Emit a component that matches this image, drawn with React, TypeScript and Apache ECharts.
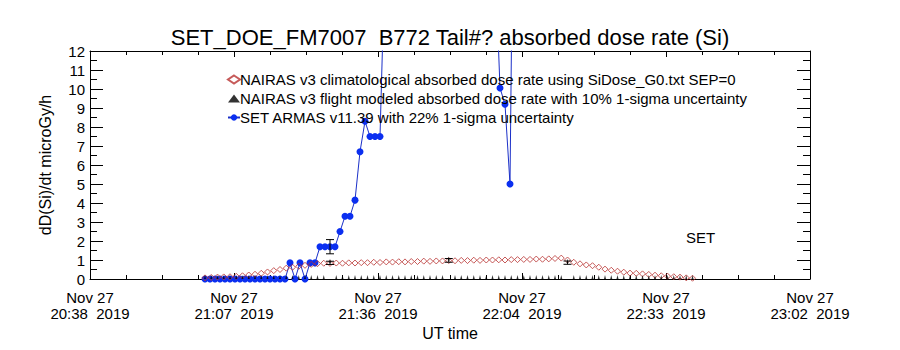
import React, { useEffect, useRef } from 'react';
import * as echarts from 'echarts';

const TITLE = 'SET_DOE_FM7007  B772 Tail#? absorbed dose rate (Si)';
const Y_NAME = 'dD(Si)/dt microGy/h';
const X_NAME = 'UT time';

// x axis: minutes after 20:38 UT, Nov 27 2019
const xTickDates = ['Nov 27', 'Nov 27', 'Nov 27', 'Nov 27', 'Nov 27', 'Nov 27'];
const xTickTimes = ['20:38', '21:07', '21:36', '22:04', '22:33', '23:02'];
const xTickYears = ['2019', '2019', '2019', '2019', '2019', '2019'];
const X_MAX = 144;
const Y_MAX = 12;

const CLIM_NAME = 'NAIRAS v3 climatological absorbed dose rate using SiDose_G0.txt SEP=0';
const FLIGHT_NAME = 'NAIRAS v3 flight modeled absorbed dose rate with 10% 1-sigma uncertainty';
const ARMAS_NAME = 'SET ARMAS v11.39 with 22% 1-sigma uncertainty';

// NAIRAS climatological samples (start minute, step in minutes)
const climStartMin = 23;
const climStepMin = 1.25;
const climVals = [
  0.06, 0.08, 0.1, 0.11, 0.12, 0.14, 0.17, 0.21, 0.25, 0.3,
  0.37, 0.44, 0.5, 0.57, 0.62, 0.67, 0.72, 0.77, 0.81, 0.83,
  0.82, 0.84, 0.83, 0.85, 0.84, 0.86, 0.86, 0.88, 0.87, 0.9,
  0.89, 0.91, 0.9, 0.92, 0.92, 0.94, 0.93, 0.95, 0.95, 0.97,
  0.96, 0.98, 0.97, 0.99, 0.98, 1.0, 1.0, 1.01, 1.0, 1.02,
  1.02, 1.03, 1.03, 1.05, 1.04, 1.06, 1.08, 1.1, 1.0, 0.88,
  0.8, 0.74, 0.7, 0.62, 0.52, 0.46, 0.41, 0.36, 0.31, 0.3,
  0.27, 0.24, 0.2, 0.17, 0.15, 0.12, 0.1, 0.06, 0.04,
];

// NAIRAS flight modeled, on the same sample grid
const flightVals = [
  0, 0, 0, 0, 0, 0, 0, 0, 0, 0,
  0, 0, 0, 0, 0, 0, 0, 0, 0, 0,
  0.85, 0, 0, 0, 0, 0, 0, 0, 0, 0,
  0, 0, 0, 0, 0, 0, 0, 0, 0, 0.98,
  0, 0, 0, 0, 0, 0, 0, 0, 0, 0,
  0, 0, 0, 0, 0, 0, 0, 0, 0.86, 0,
  0, 0, 0, 0, 0, 0, 0, 0, 0, 0,
  0, 0, 0, 0, 0, 0, 0, 0, 0,
];
const flightSigma = 0.1;

// SET ARMAS measurements
const armasMin = [
  23, 24, 25, 26, 27, 28, 29, 30, 31, 32, 33, 34, 35, 36, 37, 38, 39,
  40, 41, 42, 43, 44, 45, 46, 47, 48, 49, 50, 51, 52, 53, 54, 55, 56, 57, 58,
  59, 81, 82, 83, 84, 85,
];
const armasVals = [
  0, 0, 0, 0, 0, 0, 0, 0, 0, 0, 0, 0, 0, 0, 0, 0, 0,
  0.85, 0, 0.85, 0, 0.85, 0.85, 1.7, 1.7, 1.7, 1.7, 2.5, 3.3, 3.3, 4.15, 6.7, 8.3, 7.5, 7.5, 7.5,
  17, 17, 10.05, 9.2, 5.0, 30,
];
const armasSigma = 0.22;
const armasErrMin = [48];

const FONT = 'Liberation Sans';

export default function App() {
  const ref = useRef<HTMLDivElement>(null);

  useEffect(() => {
    if (!ref.current) return;
    const chart = echarts.init(ref.current, undefined, { renderer: 'svg' });

    const climData = climVals.map((v, i) => [climStartMin + i * climStepMin, v]);
    const flightData = flightVals.map((v, i) => [climStartMin + i * climStepMin, v]);
    const armasData = armasMin.map((m, i) => [m, armasVals[i]]);

    const errData: number[][] = [];
    flightData.forEach(([m, v]) => {
      if (v > 0) errData.push([m, v * (1 - flightSigma), v * (1 + flightSigma)]);
    });
    armasErrMin.forEach((m) => {
      const v = armasVals[armasMin.indexOf(m)];
      errData.push([m, v * (1 - armasSigma), v * (1 + armasSigma)]);
    });

    const black = '#000';
    const xStep = X_MAX / (xTickTimes.length - 1);

    const xBase = {
      type: 'value',
      min: 0,
      max: X_MAX,
      interval: xStep,
      splitLine: { show: false },
      axisLine: { show: true, onZero: false, lineStyle: { color: black, width: 1 } },
      axisTick: { show: true, inside: true, length: 6, lineStyle: { color: black } },
      minorTick: { show: true, splitNumber: 4, length: 4, lineStyle: { color: black } },
    };
    const yBase = {
      type: 'value',
      min: 0,
      max: Y_MAX,
      interval: 1,
      splitLine: { show: false },
      axisLine: { show: true, onZero: false, lineStyle: { color: black, width: 1 } },
      axisTick: { show: true, inside: true, length: 13, lineStyle: { color: black } },
      minorTick: { show: true, splitNumber: 2, length: 7, lineStyle: { color: black } },
    };

    const option: any = {
      animation: false,
      backgroundColor: '#ffffff',
      textStyle: { fontFamily: FONT, color: black },
      title: {
        text: TITLE,
        left: 'center',
        top: 21,
        textStyle: { fontFamily: FONT, fontSize: 22, fontWeight: 'normal', color: black },
      },
      legend: {
        data: [CLIM_NAME, FLIGHT_NAME, ARMAS_NAME],
        orient: 'vertical',
        left: 222,
        top: 67,
        itemGap: 4,
        itemWidth: 12,
        itemHeight: 8,
        selectedMode: false,
        textStyle: { fontFamily: FONT, fontSize: 15, color: black, padding: [0, 0, 0, -5] },
      },
      grid: { left: 90, right: 90, top: 51, bottom: 71 },
      xAxis: [
        {
          ...xBase,
          position: 'bottom',
          name: X_NAME,
          nameLocation: 'middle',
          nameGap: 46,
          nameTextStyle: { fontFamily: FONT, fontSize: 16, color: black },
          axisLabel: {
            color: black,
            fontFamily: FONT,
            fontSize: 15,
            lineHeight: 16,
            margin: 10,
            formatter: (v: number) => {
              const i = Math.round(v / xStep);
              return `${xTickDates[i]}\n${xTickTimes[i]}  ${xTickYears[i]}`;
            },
          },
        },
        {
          ...xBase,
          position: 'top',
          axisLabel: { show: false },
        },
      ],
      yAxis: [
        {
          ...yBase,
          position: 'left',
          name: Y_NAME,
          nameLocation: 'middle',
          nameGap: 37,
          nameRotate: 90,
          nameTextStyle: { fontFamily: FONT, fontSize: 16, color: black },
          axisLabel: { color: black, fontFamily: FONT, fontSize: 15, margin: 5 },
        },
        {
          ...yBase,
          position: 'right',
          axisLabel: { show: false },
        },
      ],
      graphic: [
        {
          type: 'text',
          left: 686,
          top: 230,
          style: { text: 'SET', fontFamily: FONT, fontSize: 15, fill: black },
        },
      ],
      series: [
        {
          name: ARMAS_NAME,
          type: 'line',
          data: armasData,
          clip: true,
          symbol: 'circle',
          symbolSize: 7,
          showAllSymbol: true,
          itemStyle: { color: '#0b2ff0' },
          lineStyle: { color: '#1b30c8', width: 1 },
          z: 2,
        },
        {
          name: CLIM_NAME,
          type: 'scatter',
          data: climData,
          symbol: 'diamond',
          symbolSize: [6, 6],
          itemStyle: { color: 'rgba(255,255,255,0)', borderColor: '#b8312f', borderWidth: 1 },
          z: 3,
        },
        {
          name: FLIGHT_NAME,
          type: 'scatter',
          data: flightData,
          symbol: 'triangle',
          symbolSize: [2, 4],
          symbolOffset: [0, -2],
          itemStyle: { color: black },
          z: 4,
        },
        {
          type: 'custom',
          data: errData,
          silent: true,
          z: 5,
          renderItem: (params: any, api: any) => {
            const x = api.value(0);
            const p1 = api.coord([x, api.value(1)]);
            const p2 = api.coord([x, api.value(2)]);
            const w = 4;
            const st = { stroke: black, lineWidth: 1 };
            return {
              type: 'group',
              children: [
                { type: 'line', shape: { x1: p1[0], y1: p1[1], x2: p2[0], y2: p2[1] }, style: st },
                { type: 'line', shape: { x1: p1[0] - w, y1: p1[1], x2: p1[0] + w, y2: p1[1] }, style: st },
                { type: 'line', shape: { x1: p2[0] - w, y1: p2[1], x2: p2[0] + w, y2: p2[1] }, style: st },
              ],
            };
          },
        },
      ],
    };

    chart.setOption(option);
    return () => chart.dispose();
  }, []);

  return (
    <div
      ref={ref}
      style={{ position: 'fixed', left: 0, top: 0, width: 900, height: 350, background: '#fff' }}
    />
  );
}
